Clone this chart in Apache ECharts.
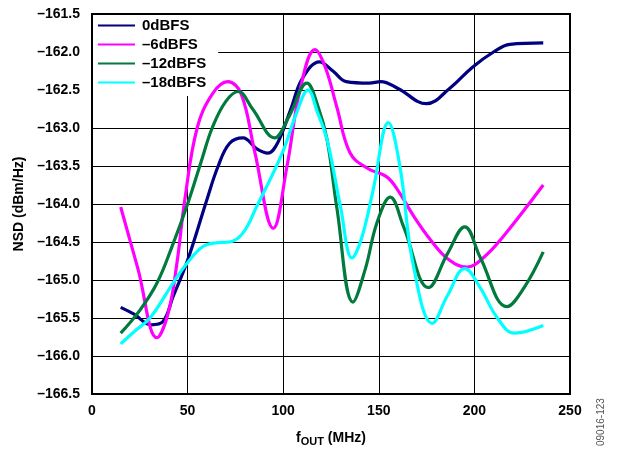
<!DOCTYPE html>
<html>
<head>
<meta charset="utf-8">
<script src="https://cdn.jsdelivr.net/npm/echarts@6/dist/echarts.min.js"></script>
<style>
html,body{margin:0;padding:0;background:#fff;}
#chart{width:623px;height:454px;}
</style>
</head>
<body>
<div id="chart"></div>
<script>
// Output frequency (MHz) / NSD (dBm/Hz) pairs for each input level
const seriesNames = ['0dBFS', '\u20136dBFS', '\u201312dBFS', '\u201318dBFS'];
const seriesColors = ['#000080', '#ff00ff', '#007a3d', '#00ffff'];

const nsd0 = [
  [15, -165.36], [22, -165.45], [31, -165.59], [37, -165.55], [42.4, -165.22], [50, -164.74],
  [60, -163.95], [66, -163.5], [72, -163.2], [79, -163.13], [86, -163.27], [92, -163.33],
  [97, -163.2], [104, -162.75], [110, -162.35], [119, -162.13], [126, -162.25],
  [133, -162.39], [145, -162.41], [151, -162.39], [160, -162.48], [175, -162.68],
  [187, -162.48], [199, -162.2], [210, -162.0], [218.6, -161.9], [236, -161.88]
];
const nsd6 = [
  [15, -164.04], [24, -164.85], [34, -165.76], [39.7, -165.45], [44.3, -164.8], [48.5, -163.95],
  [55, -163.0], [63, -162.55], [71, -162.39], [78, -162.55], [85, -163.3], [94.8, -164.32],
  [102, -163.5], [108.8, -162.5], [116.6, -161.97], [122, -162.2], [128, -162.72], [135, -163.33],
  [144, -163.53], [154, -163.64], [160, -163.82], [168, -164.15], [177, -164.47],
  [186, -164.72], [196, -164.83], [205, -164.7], [215, -164.43], [236, -163.75]
];
const nsd12 = [
  [15, -165.7], [25, -165.4], [34, -165.04], [42, -164.55], [50, -164.0],
  [57, -163.45], [63, -162.99], [70, -162.65], [76.5, -162.52], [84, -162.75], [95.5, -163.13],
  [103, -162.85], [112.4, -162.41], [118, -162.7], [123, -163.16], [128, -164.04], [136.5, -165.29],
  [143, -164.85], [149, -164.25], [156, -163.91], [163, -164.3], [176, -165.1],
  [186, -164.65], [195, -164.3], [203, -164.7], [217, -165.35], [226, -165.1], [236, -164.63]
];
const nsd18 = [
  [15, -165.84], [22, -165.68], [30.3, -165.5], [42.4, -165.04], [49.7, -164.78],
  [58, -164.56], [65, -164.51], [72, -164.5], [79, -164.38], [86, -164.04],
  [99.5, -163.33], [107, -162.8], [113, -162.5], [118, -162.8], [123, -163.16], [130, -164.04],
  [136, -164.71], [141, -164.45], [147, -163.82], [155, -162.93], [161, -163.5],
  [168, -164.8], [178, -165.57], [186, -165.2], [195, -164.85], [203, -165.1],
  [212, -165.5], [221, -165.7], [236, -165.6]
];

const chart = echarts.init(document.getElementById('chart'));
const fontFamily = 'Liberation Sans, Arial, sans-serif';
const dataSets = [nsd0, nsd6, nsd12, nsd18];

chart.setOption({
  animation: false,
  backgroundColor: '#fff',
  color: seriesColors,
  grid: { left: 92, right: 53, top: 14, bottom: 60, show: true, borderColor: '#000', borderWidth: 2 },
  legend: {
    orient: 'vertical',
    left: 93,
    top: 15,
    padding: [3, 12, 6, 5],
    itemGap: 4,
    itemWidth: 37,
    itemHeight: 14,
    backgroundColor: '#fff',
    z: 2,
    icon: 'path://M0,6 L37,6 L37,8 L0,8 Z',
    data: seriesNames.map((n, i) => ({ name: n, itemStyle: { color: seriesColors[i] } })),
    textStyle: { fontFamily, fontWeight: 'bold', fontSize: 15, color: '#000', padding: [0, 0, 0, 2] }
  },
  xAxis: {
    type: 'value',
    min: 0, max: 250, interval: 50,
    axisLine: { show: true, lineStyle: { color: '#000', width: 2 } },
    axisTick: { show: false },
    splitLine: { show: true, lineStyle: { color: '#000', width: 1 } },
    axisLabel: { fontFamily, fontWeight: 'bold', fontSize: 14, color: '#000', margin: 10 },
    name: '{f|f}{s|OUT}{f| (MHz)}',
    nameLocation: 'middle',
    nameGap: 36,
    nameTextStyle: {
      rich: {
        f: { fontFamily, fontWeight: 'bold', fontSize: 14, color: '#000' },
        s: { fontFamily, fontWeight: 'bold', fontSize: 11, color: '#000', verticalAlign: 'bottom', padding: [6, 0, 0, 0] }
      }
    }
  },
  yAxis: {
    type: 'value',
    min: -166.5, max: -161.5, interval: 0.5,
    axisLine: { show: true, lineStyle: { color: '#000', width: 2 } },
    axisTick: { show: false },
    splitLine: { show: true, lineStyle: { color: '#000', width: 1 } },
    axisLabel: {
      fontFamily, fontWeight: 'bold', fontSize: 14, color: '#000', margin: 12,
      formatter: v => v.toFixed(1).replace('-', '\u2013')
    },
    name: 'NSD (dBm/Hz)',
    nameLocation: 'middle',
    nameGap: 64,
    nameTextStyle: { fontFamily, fontWeight: 'bold', fontSize: 14, color: '#000' }
  },
  graphic: [{
    type: 'text',
    x: 601,
    y: 446,
    rotation: Math.PI / 2,
    style: { text: '09016-123', fontFamily, fontSize: 10, fill: '#555', textAlign: 'left', textVerticalAlign: 'middle' }
  }],
  series: dataSets.map((d, i) => ({
    name: seriesNames[i],
    type: 'line',
    data: d,
    smooth: 0.4,
    symbol: 'none',
    lineStyle: { width: 3.2, color: seriesColors[i] },
    itemStyle: { color: seriesColors[i] },
    z: 6
  }))
});
</script>
</body>
</html>
